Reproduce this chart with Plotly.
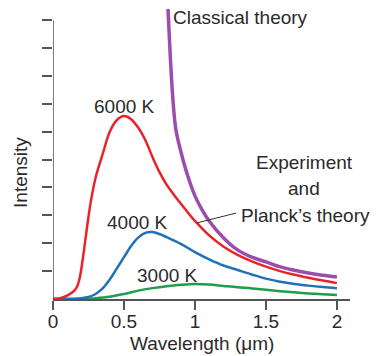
import plotly.graph_objects as go

# Wavelength (µm) / intensity readings from the picture
red_x = [0, 0.05, 0.10, 0.15, 0.17, 0.19, 0.21, 0.23, 0.25, 0.27, 0.30, 0.35, 0.40, 0.45, 0.50, 0.55, 0.60, 0.65, 0.70, 0.75, 0.80, 0.85, 0.90, 0.95, 1.0, 1.1, 1.2, 1.3, 1.4, 1.5, 1.6, 1.7, 1.8, 1.9, 2.0]
red_y = [0, 0.03, 0.12, 0.3, 0.45, 0.8, 1.45, 2.2, 2.95, 3.6, 4.35, 5.2, 6.0, 6.42, 6.56, 6.45, 6.15, 5.7, 5.1, 4.55, 4.1, 3.75, 3.42, 3.1, 2.8, 2.28, 1.88, 1.58, 1.35, 1.16, 1.0, 0.87, 0.76, 0.66, 0.57]

blue_x = [0, 0.1, 0.2, 0.25, 0.3, 0.35, 0.4, 0.45, 0.5, 0.55, 0.6, 0.65, 0.7, 0.75, 0.8, 0.9, 1.0, 1.1, 1.2, 1.3, 1.4, 1.5, 1.6, 1.7, 1.8, 1.9, 2.0]
blue_y = [0, 0.0, 0.03, 0.07, 0.18, 0.38, 0.7, 1.1, 1.5, 1.9, 2.2, 2.37, 2.4, 2.33, 2.22, 1.98, 1.68, 1.42, 1.2, 1.04, 0.88, 0.73, 0.62, 0.54, 0.48, 0.43, 0.39]

green_x = [0, 0.1, 0.2, 0.3, 0.4, 0.5, 0.6, 0.7, 0.8, 0.9, 1.0, 1.1, 1.2, 1.3, 1.4, 1.5, 1.6, 1.7, 1.8, 1.9, 2.0]
green_y = [0, 0.0, 0.01, 0.03, 0.08, 0.18, 0.3, 0.39, 0.46, 0.51, 0.54, 0.52, 0.47, 0.42, 0.38, 0.33, 0.28, 0.24, 0.2, 0.17, 0.14]

classical_x = [0.81, 0.824, 0.845, 0.866, 0.9, 0.95, 1.0, 1.05, 1.1, 1.2, 1.3, 1.4, 1.5, 1.6, 1.7, 1.8, 1.9, 2.0]
classical_y = [10.4, 8.92, 7.13, 6.06, 5.3, 4.4, 3.7, 3.2, 2.8, 2.2, 1.76, 1.5, 1.33, 1.15, 1.03, 0.93, 0.85, 0.79]

x_tick_vals = [0, 0.5, 1, 1.5, 2]
x_tick_text = ["0", "0.5", "1", "1.5", "2"]
y_tick_vals = [1, 2, 3, 4, 5, 6, 7, 8, 9, 10]

FONT = "Liberation Sans, Arial, sans-serif"
TXT = "#2a2a2a"
AX = "#555555"

fig = go.Figure()
fig.add_trace(go.Scatter(x=green_x, y=green_y, mode="lines", line=dict(color="#1e9e4a", width=2.5, shape="spline", smoothing=1)))
fig.add_trace(go.Scatter(x=blue_x, y=blue_y, mode="lines", line=dict(color="#1f72b8", width=2.5, shape="spline", smoothing=1)))
fig.add_trace(go.Scatter(x=red_x, y=red_y, mode="lines", line=dict(color="#e8232a", width=2.5, shape="spline", smoothing=1)))
fig.add_trace(go.Scatter(x=classical_x, y=classical_y, mode="lines", line=dict(color="#9b4dae", width=3.5, shape="spline", smoothing=1)))

ann = dict(showarrow=False, font=dict(family=FONT, size=19, color=TXT))
annotations = [
    dict(text="Classical theory", x=0.83, y=10.08, xanchor="left", yanchor="middle", **ann),
    dict(text="6000 K", x=0.503, y=6.89, xanchor="center", yanchor="middle", **ann),
    dict(text="Experiment", x=1.768, y=4.91, xanchor="center", yanchor="middle", **ann),
    dict(text="and", x=1.768, y=3.98, xanchor="center", yanchor="middle", **ann),
    dict(text="Planck\u2019s theory", x=1.31, y=2.98, xanchor="left", yanchor="middle", **ann),
    dict(text="4000 K", x=0.592, y=2.76, xanchor="center", yanchor="middle", **ann),
    dict(text="3000 K", x=0.803, y=0.86, xanchor="center", yanchor="middle", **ann),
    dict(text="Intensity", xref="paper", yref="paper", x=-0.108, y=0.438, textangle=-90,
         xanchor="center", yanchor="middle", **ann),
    dict(text="Wavelength (\u03bcm)", xref="paper", yref="paper", x=0.502, y=-0.152,
         xanchor="center", yanchor="middle", **ann),
]

# page body has an 8px default margin, so the figure is sized/placed to compensate
fig.update_layout(
    width=372, height=348,
    margin=dict(l=45, r=30, t=1, b=57),
    paper_bgcolor="white", plot_bgcolor="white",
    showlegend=False,
    annotations=annotations,
    shapes=[
        dict(type="line", xref="x", yref="y", x0=0, y0=0, x1=0, y1=10, line=dict(color=AX, width=1.5)),
        dict(type="line", xref="x", yref="y", x0=1.014, y0=2.73, x1=1.289, y1=3.08, line=dict(color="#333333", width=1)),
    ],
    xaxis=dict(range=[0, 2.092], showgrid=False, zeroline=False, showline=True, linecolor=AX, linewidth=1.5,
               ticks="outside", ticklen=9, tickwidth=1.5, tickcolor=AX,
               tickvals=x_tick_vals, ticktext=x_tick_text, ticklabelstandoff=-5,
               tickfont=dict(family=FONT, size=19, color=TXT)),
    yaxis=dict(range=[0, 10.4], showgrid=False, zeroline=False, showline=False,
               ticks="outside", ticklen=10, tickwidth=1.5, tickcolor=AX,
               tickvals=y_tick_vals, showticklabels=False),
)

fig.write_html("out.html")
